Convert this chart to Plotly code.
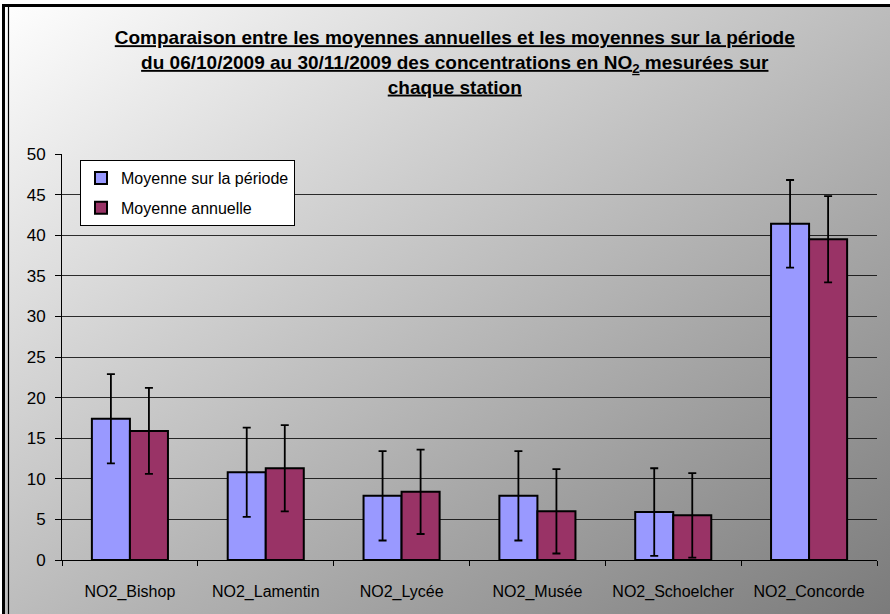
import base64
import plotly.graph_objects as go

stations = ["NO2_Bishop", "NO2_Lamentin", "NO2_Lycée", "NO2_Musée", "NO2_Schoelcher", "NO2_Concorde"]
periode = [17.4, 10.8, 7.9, 7.9, 5.9, 41.4]
periode_err = [5.5, 5.5, 5.5, 5.5, 5.4, 5.4]
annuelle = [15.9, 11.3, 8.4, 6.0, 5.5, 39.5]
annuelle_err = [5.3, 5.3, 5.2, 5.2, 5.2, 5.3]
y_ticks = [0, 5, 10, 15, 20, 25, 30, 35, 40, 45, 50]

W, H = 890, 614
ML, MR, MT, MB = 62, 13, 154, 54
PW, PH = W - ML - MR, H - MT - MB

svg = (
    '<svg xmlns="http://www.w3.org/2000/svg" width="890" height="614" viewBox="0 0 890 614" preserveAspectRatio="none">'
    '<defs><linearGradient id="g" x1="0" y1="0" x2="1" y2="1">'
    '<stop offset="0" stop-color="#ffffff"/><stop offset="1" stop-color="#7b7b7b"/>'
    '</linearGradient></defs><rect x="0" y="0" width="890" height="614" fill="url(#g)"/></svg>'
)
bg = "data:image/svg+xml;base64," + base64.b64encode(svg.encode()).decode()

fig = go.Figure()
fig.add_trace(go.Bar(
    x=stations, y=periode, name="Moyenne sur la période", legendgroup="p",
    marker=dict(color="#9999ff", line=dict(color="black", width=2)),
    error_y=dict(type="data", array=periode_err, color="black", thickness=1.8, width=4),
))
fig.add_trace(go.Bar(
    x=stations, y=annuelle, name="Moyenne annuelle", legendgroup="a",
    marker=dict(color="#993366", line=dict(color="black", width=2)),
    error_y=dict(type="data", array=annuelle_err, color="black", thickness=1.8, width=4),
))

title = ("<b><u>Comparaison entre les moyennes annuelles et les moyennes sur la période</u><br>"
         "<u>du 06/10/2009 au 30/11/2009 des concentrations en NO<sub>2</sub> mesurées sur</u><br>"
         "<u>chaque station</u></b>")

fig.update_layout(
    width=W, height=H,
    margin=dict(l=ML, r=MR, t=MT, b=MB),
    paper_bgcolor="rgba(0,0,0,0)", plot_bgcolor="rgba(0,0,0,0)",
    barmode="group", bargap=0.44, bargroupgap=0,
    font=dict(family="Liberation Sans, Arial, sans-serif", color="black"),
    title=dict(text=title, x=0.511, xanchor="center", y=0.928, yanchor="top",
               font=dict(family="Liberation Sans Narrow, Liberation Sans, Arial", size=19, color="black")),
    showlegend=True,
    legend=dict(x=18 / PW, y=(PH - 6) / PH, xanchor="left", yanchor="top",
                bgcolor="white", bordercolor="black", borderwidth=1,
                font=dict(size=16, family="Liberation Sans, Arial"), itemwidth=30,
                tracegroupgap=6),
    xaxis=dict(showline=True, linecolor="black", linewidth=1, ticks="outside",
               tickson="boundaries", ticklen=5, tickcolor="black",
               tickfont=dict(size=16), showgrid=False, ticklabelstandoff=17),
    yaxis=dict(range=[0, 50], tickvals=y_ticks, showline=True, linecolor="black", linewidth=1,
               ticks="outside", ticklen=6, tickcolor="black", tickfont=dict(size=17),
               ticklabelstandoff=6,
               showgrid=True, gridcolor="rgba(0,0,0,0.8)", gridwidth=1, zeroline=False),
    images=[dict(source=bg, xref="paper", yref="paper", x=-ML / PW, y=1 + MT / PH,
                 sizex=W / PW, sizey=H / PH, sizing="stretch", layer="below",
                 xanchor="left", yanchor="top")],
    shapes=[
        dict(type="rect", xref="paper", yref="paper", x0=-ML / PW, x1=1 + MR / PW,
             y0=1 + MT / PH, y1=1 + (MT - 4) / PH, fillcolor="white", line=dict(width=0), layer="above"),
        dict(type="rect", xref="paper", yref="paper", x0=-ML / PW, x1=-(ML - 2) / PW,
             y0=-MB / PH, y1=1 + MT / PH, fillcolor="white", line=dict(width=0), layer="above"),
        dict(type="line", xref="paper", yref="paper", x0=-(ML - 2) / PW, x1=1 + MR / PW,
             y0=1 + (MT - 5.5) / PH, y1=1 + (MT - 5.5) / PH, line=dict(color="black", width=3)),
        dict(type="line", xref="paper", yref="paper", x0=-(ML - 3.5) / PW, x1=-(ML - 3.5) / PW,
             y0=-MB / PH, y1=1 + (MT - 4) / PH, line=dict(color="black", width=3)),
        dict(type="line", xref="paper", yref="paper", x0=-(ML - 8.5) / PW, x1=-(ML - 8.5) / PW,
             y0=-MB / PH, y1=1 + (MT - 7) / PH, line=dict(color="black", width=1.2)),
    ],
)

fig.write_html("out.html", config={"displayModeBar": False},
               post_script="document.body.style.margin='0px';document.body.style.overflow='hidden';")
